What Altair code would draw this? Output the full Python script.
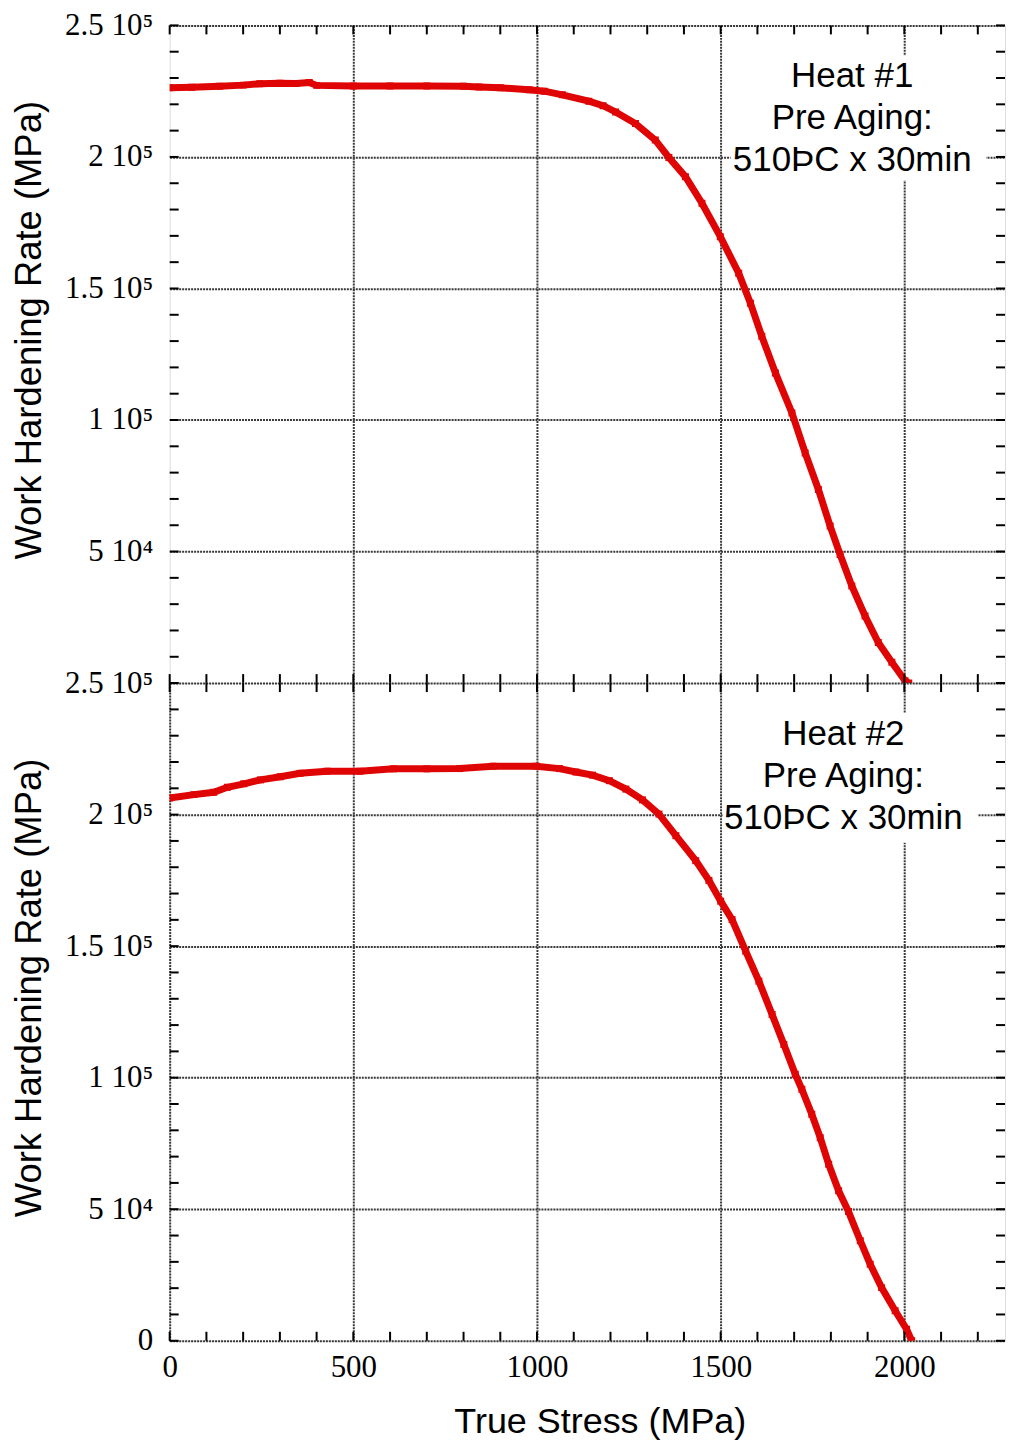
import altair as alt
import pandas as pd

# ---------------- data ----------------
top_stress = [0, 60, 136, 200, 245, 300, 344, 380, 400, 500, 600, 700, 800, 842, 900,
              978, 1020, 1069, 1141, 1180, 1214, 1268, 1322, 1359, 1404, 1449, 1499,
              1549, 1581, 1612, 1649, 1694, 1730, 1766, 1798, 1825, 1857, 1893, 1929,
              1966, 2002, 2012]
top_rate = [226300, 226500, 226900, 227300, 227800, 228000, 227900, 228300, 227200,
            227000, 227000, 227000, 226900, 226600, 226300, 225500, 225000, 223600,
            221200, 219500, 217100, 212700, 206400, 199800, 192500, 182400, 169700,
            155800, 144400, 131800, 117900, 102700, 87500, 73600, 59700, 48900, 36900,
            25500, 15400, 7900, 900, 0]

bot_stress = [0, 66, 120, 157, 202, 247, 301, 355, 428, 518, 609, 700, 790, 880, 998,
              1061, 1106, 1151, 1197, 1242, 1287, 1332, 1378, 1432, 1468, 1500, 1531,
              1568, 1604, 1640, 1672, 1703, 1721, 1748, 1771, 1794, 1821, 1848, 1880,
              1907, 1938, 1975, 2006, 2020]
bot_rate = [206300, 207600, 208500, 210400, 211700, 213200, 214400, 215700, 216500,
            216500, 217400, 217400, 217500, 218400, 218400, 217500, 216200, 215000,
            212900, 209700, 205600, 200200, 192000, 182500, 175000, 167100, 160100,
            148100, 136700, 124000, 112600, 101300, 95600, 86100, 77200, 67100, 57000,
            49100, 38000, 29100, 20200, 11400, 4400, 0]

notes_top = ["Heat #1", "Pre Aging:", "510ÞC x 30min"]
notes_bot = ["Heat #2", "Pre Aging:", "510ÞC x 30min"]

x_tick_values = [0, 500, 1000, 1500, 2000]
x_tick_labels = ["0", "500", "1000", "1500", "2000"]
y_tick_values = [0, 50000, 100000, 150000, 200000, 250000]
y_tick_labels = ["0", "5 10⁴", "1 10⁵", "1.5 10⁵", "2 10⁵", "2.5 10⁵"]
x_minor = list(range(0, 2300, 100))
y_minor = list(range(0, 260000, 10000))

X_MAX = 2274
Y_MAX = 250000
W, H = 837, 659
TICK = 9
RED = "#e00505"
GRID = "#3a3a3a"


def label_expr(values, labels):
    return "".join(f"datum.value == {v} ? '{l}' : " for v, l in zip(values, labels)) + "''"


xscale = alt.Scale(domain=[0, X_MAX], nice=False, zero=False)
yscale = alt.Scale(domain=[0, Y_MAX], nice=False)


def panel(stress, rate, notes, note_pos, box, show_x, y_label_vals):
    df = pd.DataFrame({"stress": stress, "rate": rate})

    x_kwargs = dict(values=x_tick_values[1:], grid=True, gridColor=GRID, gridDash=[2, 1],
                    gridWidth=2, ticks=False, domain=False, tickSize=0)
    if show_x:
        x_kwargs.update(labels=True, labelExpr=label_expr(x_tick_values, x_tick_labels),
                        labelFont="Liberation Serif", labelFontSize=31, labelColor="black",
                        labelPadding=12, labelFlush=False, title="True Stress (MPa)",
                        titleFont="Liberation Sans",
                        titleFontSize=36, titleFontWeight="normal", titleColor="black",
                        titleX=431, titleY=92, titleBaseline="alphabetic", titleAlign="center")
        x_kwargs["values"] = x_tick_values
    else:
        x_kwargs.update(labels=False, title=None)

    y_axis = alt.Axis(values=y_label_vals, grid=True, gridColor=GRID, gridDash=[2, 1],
                      gridWidth=2, ticks=False, domain=False, tickSize=0,
                      labelExpr=label_expr(y_tick_values, y_tick_labels),
                      labelFont="Liberation Serif", labelFontSize=31, labelColor="black",
                      labelPadding=17, labelBaseline="middle", labelFlush=False,
                      title="Work Hardening Rate (MPa)", titleFont="Liberation Sans",
                      titleFontSize=36.5, titleFontWeight="normal", titleColor="black",
                      titleAngle=270, titleX=-129, titleY=305, titleBaseline="alphabetic",
                      titleAlign="center")

    base = alt.Chart(df)
    line = base.mark_line(color=RED, strokeWidth=7, clip=True).encode(
        x=alt.X("stress:Q", scale=xscale, axis=alt.Axis(**x_kwargs)),
        y=alt.Y("rate:Q", scale=yscale, axis=y_axis),
    )
    pts = base.mark_square(color=RED, size=49, opacity=1, clip=True).encode(
        x=alt.X("stress:Q", scale=xscale), y=alt.Y("rate:Q", scale=yscale))

    wbox = alt.Chart(pd.DataFrame({"a": [0]})).mark_rect(color="white").encode(
        x=alt.datum(box[0], scale=xscale), x2=alt.datum(box[1]),
        y=alt.datum(box[2], scale=yscale), y2=alt.datum(box[3]))

    txt = alt.Chart(pd.DataFrame({"a": [0]})).mark_text(
        text=notes, font="Liberation Sans", fontSize=35, color="black", align="center",
        baseline="alphabetic", lineHeight=42).encode(
        x=alt.datum(note_pos[0], scale=xscale), y=alt.datum(note_pos[1], scale=yscale))

    xt = pd.DataFrame({"stress": x_minor})
    yt = pd.DataFrame({"rate": y_minor})
    tk = dict(color="black", strokeWidth=2)
    t_top = alt.Chart(xt).mark_rule(**tk).encode(
        x=alt.X("stress:Q", scale=xscale), y=alt.value(0), y2=alt.value(TICK))
    t_bot = alt.Chart(xt).mark_rule(**tk).encode(
        x=alt.X("stress:Q", scale=xscale), y=alt.value(H), y2=alt.value(H - TICK))
    t_left = alt.Chart(yt).mark_rule(**tk).encode(
        y=alt.Y("rate:Q", scale=yscale), x=alt.value(0), x2=alt.value(TICK))
    t_right = alt.Chart(yt).mark_rule(**tk).encode(
        y=alt.Y("rate:Q", scale=yscale), x=alt.value(W), x2=alt.value(W - TICK))

    return alt.layer(line, wbox, txt, pts, t_top, t_bot, t_left, t_right).properties(
        width=W, height=H)


top = panel(top_stress, top_rate, notes_top, (1858, 226500), (1527, 2223, 191000, 238600),
            False, y_tick_values[1:])
bot = panel(bot_stress, bot_rate, notes_bot, (1834, 226500), (1505, 2200, 189300, 238600),
            True, y_tick_values)

chart = alt.vconcat(top, bot, spacing=0, bounds="flush").properties(
    padding={"left": 3, "top": -1, "right": 0, "bottom": 0}
).configure_view(stroke="black", strokeWidth=2).configure(background="white")

chart.save("out.html", embed_options={"renderer": "svg", "actions": False})
